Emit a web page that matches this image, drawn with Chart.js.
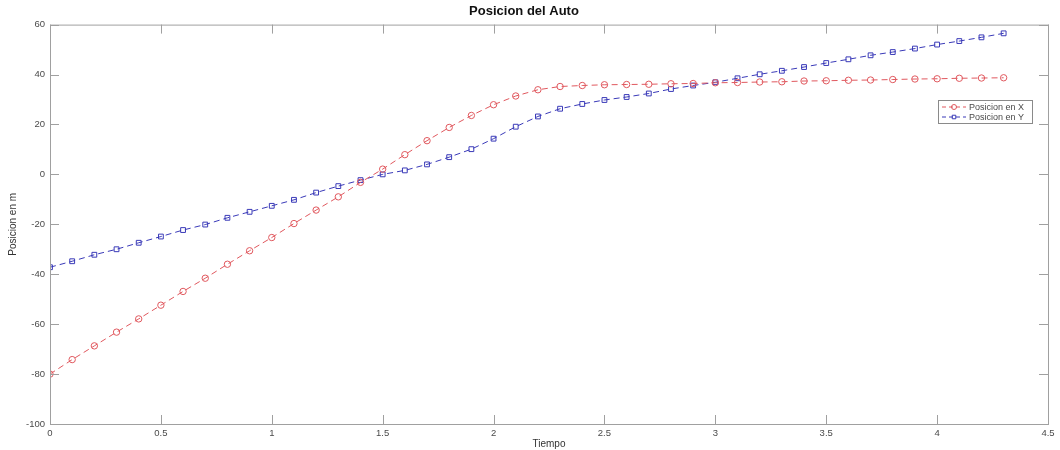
<!DOCTYPE html>
<html>
<head>
<meta charset="utf-8">
<script src="https://cdn.jsdelivr.net/npm/chart.js@4.4.1/dist/chart.umd.min.js"></script>
<style>
  html, body { margin: 0; padding: 0; background: #fff; }
  #wrap { width: 1060px; height: 450px; position: relative; }
</style>
</head>
<body>
<div id="wrap"><canvas id="posChart" width="1060" height="450"></canvas></div>
<script>
// time samples (s)
const tiempo = [0, 0.1, 0.2, 0.3, 0.4, 0.5, 0.6, 0.7, 0.8, 0.9,
                1.0, 1.1, 1.2, 1.3, 1.4, 1.5, 1.6, 1.7, 1.8, 1.9,
                2.0, 2.1, 2.2, 2.3, 2.4, 2.5, 2.6, 2.7, 2.8, 2.9,
                3.0, 3.1, 3.2, 3.3, 3.4, 3.5, 3.6, 3.7, 3.8, 3.9,
                4.0, 4.1, 4.2, 4.3];

// position in X (m)
const posicionX = [-80, -74.2, -68.7, -63.2, -57.9, -52.4, -46.9, -41.6, -36.0, -30.6,
                   -25.3, -19.7, -14.3, -9.0, -3.2, 2.1, 7.9, 13.5, 18.8, 23.6,
                   27.9, 31.4, 33.9, 35.2, 35.6, 35.9, 36.0, 36.1, 36.3, 36.4,
                   36.7, 36.8, 37.0, 37.1, 37.4, 37.5, 37.7, 37.8, 38.0, 38.2,
                   38.3, 38.5, 38.6, 38.7];

// position in Y (m)
const posicionY = [-37.2, -34.8, -32.2, -30.0, -27.4, -24.9, -22.3, -20.1, -17.4, -15.0,
                   -12.6, -10.2, -7.3, -4.7, -2.3, 0.0, 1.6, 4.0, 6.9, 10.1,
                   14.3, 19.1, 23.2, 26.3, 28.2, 29.8, 31.0, 32.4, 34.2, 35.6,
                   36.9, 38.5, 40.1, 41.5, 43.0, 44.6, 46.1, 47.7, 49.0, 50.4,
                   52.0, 53.4, 54.9, 56.5];

const xTicks = [0, 0.5, 1, 1.5, 2, 2.5, 3, 3.5, 4, 4.5];
const yTicks = [-100, -80, -60, -40, -20, 0, 20, 40, 60];

const seriesNames = ['Posicion en X', 'Posicion en Y'];
const seriesColors = ['#e0585e', '#3a3ab8'];

const axisGray = '#a0a0a0';
const labelGray = '#4a4a4a';
const baseFont = 'Liberation Sans, Arial, sans-serif';

// box around the axes with inward ticks, MATLAB style
const boxAxes = {
    id: 'boxAxes',
    afterDatasetsDraw(chart) {
        const { ctx, chartArea: a, scales } = chart;
        ctx.save();
        ctx.strokeStyle = axisGray;
        ctx.lineWidth = 1;
        ctx.strokeRect(a.left + 0.5, a.top + 0.5, a.right - a.left, a.bottom - a.top);
        const len = 9;
        ctx.beginPath();
        xTicks.forEach(v => {
            const px = Math.round(scales.x.getPixelForValue(v)) + 0.5;
            ctx.moveTo(px, a.bottom); ctx.lineTo(px, a.bottom - len);
            ctx.moveTo(px, a.top); ctx.lineTo(px, a.top + len);
        });
        yTicks.forEach(v => {
            const py = Math.round(scales.y.getPixelForValue(v)) + 0.5;
            ctx.moveTo(a.left, py); ctx.lineTo(a.left + len, py);
            ctx.moveTo(a.right, py); ctx.lineTo(a.right - len, py);
        });
        ctx.stroke();
        ctx.restore();
    }
};

// legend box inside the plot, upper right
const boxLegend = {
    id: 'boxLegend',
    afterDraw(chart) {
        const { ctx, chartArea: a } = chart;
        const w = 94, h = 23;
        const x0 = a.right - 16 - w, y0 = 100;
        ctx.save();
        ctx.fillStyle = '#fff';
        ctx.fillRect(x0, y0, w, h);
        ctx.strokeStyle = '#8a8a8a';
        ctx.lineWidth = 1;
        ctx.strokeRect(x0 + 0.5, y0 + 0.5, w, h);
        chart.data.datasets.forEach((ds, i) => {
            const cy = y0 + 7 + i * 10;
            ctx.strokeStyle = ds.borderColor;
            ctx.setLineDash([4, 3]);
            ctx.beginPath();
            ctx.moveTo(x0 + 4, cy); ctx.lineTo(x0 + 28, cy);
            ctx.stroke();
            ctx.setLineDash([]);
            ctx.fillStyle = 'rgba(255,255,255,0)';
            Chart.helpers.drawPoint(ctx, {
                pointStyle: ds.pointStyle, radius: 2.5, rotation: 0, borderWidth: 1
            }, x0 + 16, cy);
            ctx.fillStyle = labelGray;
            ctx.font = '9px ' + baseFont;
            ctx.textBaseline = 'middle';
            ctx.fillText(ds.label, x0 + 31, cy + 0.5);
        });
        ctx.restore();
    }
};

function makeSeries(values) {
    return tiempo.map((t, i) => ({ x: t, y: values[i] }));
}

new Chart(document.getElementById('posChart'), {
    type: 'line',
    data: {
        datasets: [{
            label: seriesNames[0],
            data: makeSeries(posicionX),
            borderColor: seriesColors[0],
            borderWidth: 1,
            borderDash: [6, 4],
            pointStyle: 'circle',
            pointRadius: 3.2,
            pointBorderWidth: 1,
            pointBorderColor: seriesColors[0],
            pointBackgroundColor: 'rgba(255,255,255,0)',
            tension: 0,
            fill: false
        }, {
            label: seriesNames[1],
            data: makeSeries(posicionY),
            borderColor: seriesColors[1],
            borderWidth: 1,
            borderDash: [6, 4],
            pointStyle: 'rect',
            pointRadius: 3.4,
            pointBorderWidth: 1,
            pointBorderColor: seriesColors[1],
            pointBackgroundColor: 'rgba(255,255,255,0)',
            tension: 0,
            fill: false
        }]
    },
    options: {
        responsive: false,
        animation: false,
        layout: { padding: { left: 0, right: 12, top: 0, bottom: 0 } },
        scales: {
            x: {
                type: 'linear',
                min: 0,
                max: 4.5,
                afterBuildTicks: s => { s.ticks = xTicks.map(v => ({ value: v })); },
                afterFit: s => { s.height = 26; },
                grid: { display: false, drawTicks: false },
                border: { display: false },
                ticks: {
                    autoSkip: false,
                    padding: 4,
                    color: labelGray,
                    font: { family: baseFont, size: 9.5 },
                    maxRotation: 0,
                    callback: v => String(v)
                },
                title: {
                    display: true,
                    text: 'Tiempo',
                    color: '#333',
                    font: { family: baseFont, size: 10 },
                    padding: { top: -2, bottom: 0 }
                }
            },
            y: {
                min: -100,
                max: 60,
                afterBuildTicks: s => { s.ticks = yTicks.map(v => ({ value: v })); },
                afterFit: s => { s.width = 50; },
                grid: { display: false, drawTicks: false },
                border: { display: false },
                ticks: {
                    autoSkip: false,
                    padding: 5,
                    color: labelGray,
                    font: { family: baseFont, size: 9.5 }
                },
                title: {
                    display: true,
                    text: 'Posicion en m',
                    color: '#333',
                    font: { family: baseFont, size: 10 },
                    padding: { top: 7, bottom: 0 }
                }
            }
        },
        plugins: {
            legend: { display: false },
            tooltip: { enabled: false },
            title: {
                display: true,
                text: 'Posicion del Auto',
                color: '#111',
                font: { family: baseFont, size: 13, weight: 'bold' },
                padding: { top: 4, bottom: 5 }
            }
        }
    },
    plugins: [boxAxes, boxLegend]
});
</script>
</body>
</html>
